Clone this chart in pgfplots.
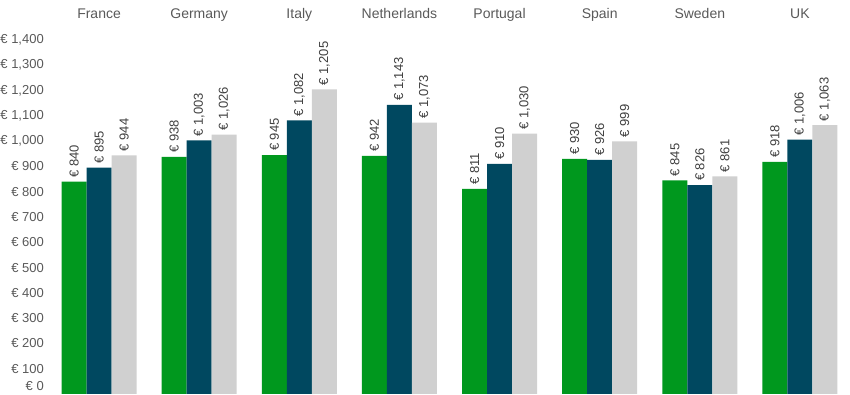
\documentclass[border=0pt]{standalone}
\usepackage{fontspec}
\setmainfont{Liberation Sans}
\usepackage{pgfplots}
\pgfplotsset{compat=1.18}
\definecolor{cgreen}{RGB}{0,152,30}
\definecolor{cblue}{RGB}{0,72,96}
\definecolor{cgray}{RGB}{208,208,208}
\definecolor{ctick}{RGB}{89,89,89}
\definecolor{clab}{RGB}{64,64,64}
\begin{document}
\begin{tikzpicture}
\useasboundingbox (0,0) rectangle (850pt,395pt);
\begin{axis}[
  at={(49pt,1pt)}, anchor=south west,
  scale only axis, width=801pt, height=366pt,
  ybar=0pt, bar width=0.25,
  xmin=-0.5, xmax=7.5, ymin=0, ymax=1447.5,
  xtick={0,...,7},
  xticklabels={France,Germany,Italy,Netherlands,Portugal,Spain,Sweden,UK},
  xticklabel pos=right,
  x tick label style={font=\fontsize{14}{16}\selectfont, text=ctick, anchor=base, inner sep=0pt, yshift=9pt},
  ytick={100,200,...,1400},
  extra y ticks={0},
  extra y tick style={yticklabel style={yshift=8pt}},
  yticklabel={€ \pgfmathprintnumber{\tick}},
  y tick label style={font=\fontsize{13}{15}\selectfont, text=ctick, anchor=east, inner sep=0pt, xshift=-5pt},
  /pgf/number format/assume math mode=true,
  /pgf/number format/1000 sep={,},
  axis line style={draw=none},
  major tick length=0pt,
  tick style={draw=none},
  nodes near coords={€ \pgfmathprintnumber{\pgfplotspointmeta}},
  every node near coord/.append style={rotate=90, anchor=west, font=\fontsize{13}{15}\selectfont, text=clab, inner xsep=4pt, inner ysep=0pt},
  clip=false,
]
\addplot[draw=none, fill=cgreen] coordinates {(0,840) (1,938) (2,945) (3,942) (4,811) (5,930) (6,845) (7,918)};
\addplot[draw=none, fill=cblue] coordinates {(0,895) (1,1003) (2,1082) (3,1143) (4,910) (5,926) (6,826) (7,1006)};
\addplot[draw=none, fill=cgray] coordinates {(0,944) (1,1026) (2,1205) (3,1073) (4,1030) (5,999) (6,861) (7,1063)};
\end{axis}
\end{tikzpicture}
\end{document}
